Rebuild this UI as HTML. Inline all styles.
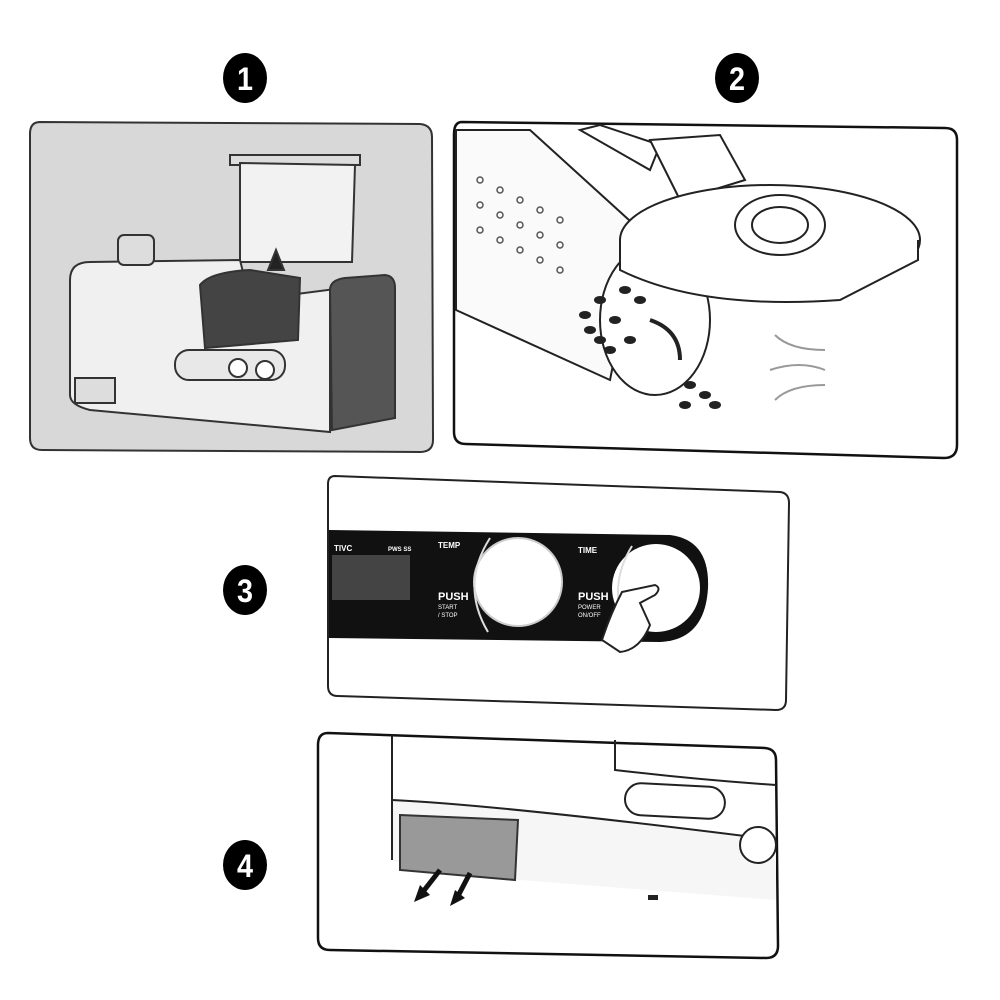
<!DOCTYPE html>
<html><head><meta charset="utf-8"><style>
body{margin:0;background:#fff;width:1000px;height:1000px;overflow:hidden}
svg{display:block}
text{font-family:"Liberation Sans",sans-serif}
</style></head><body>
<svg width="1000" height="1000" viewBox="0 0 1000 1000">
<g font-weight="bold" font-size="32" fill="#fff" text-anchor="middle">
<ellipse cx="245" cy="78" rx="22" ry="25" fill="#000"/><text x="245" y="90" textLength="16" lengthAdjust="spacingAndGlyphs">1</text>
<ellipse cx="737" cy="78" rx="22" ry="25" fill="#000"/><text x="737" y="90" textLength="16" lengthAdjust="spacingAndGlyphs">2</text>
<ellipse cx="245" cy="590" rx="22" ry="25" fill="#000"/><text x="245" y="602" textLength="16" lengthAdjust="spacingAndGlyphs">3</text>
<ellipse cx="245" cy="865" rx="22" ry="25" fill="#000"/><text x="245" y="877" textLength="16" lengthAdjust="spacingAndGlyphs">4</text>
</g>

<!-- Panel 1 -->
<path d="M40 122 L420 124 Q432 125 432 137 L433 440 Q433 452 420 452 L42 450 Q30 450 30 438 L30 134 Q30 122 40 122Z" fill="#d8d8d8" stroke="#333" stroke-width="2"/>
<g stroke="#333" stroke-width="2" fill="#eee">
<rect x="230" y="155" width="130" height="10" fill="#ddd"/>
<path d="M240 163 L355 165 L352 262 L240 262Z" fill="#f2f2f2"/>
<path d="M70 280 Q70 262 90 262 L240 260 L250 300 L390 282 L330 292 L330 432 L90 410 Q70 405 70 395Z" fill="#f0f0f0"/>
<path d="M330 290 Q330 280 345 278 L385 275 Q395 276 395 288 L395 418 L332 430Z" fill="#555"/>
<path d="M200 285 Q210 272 250 270 L300 278 L298 340 L205 348Z" fill="#444"/>
<rect x="175" y="350" width="110" height="30" rx="14" fill="#e8e8e8"/>
<circle cx="238" cy="368" r="9" fill="#fff"/><circle cx="265" cy="370" r="9" fill="#fff"/>
<rect x="118" y="235" width="36" height="30" rx="6" fill="#ddd"/>
<rect x="75" y="378" width="40" height="25" fill="#ddd"/>
<path d="M268 270 L276 250 L284 270Z" fill="#222"/>
</g>

<!-- Panel 2 -->
<path d="M462 122 L945 128 Q957 128 957 140 L957 445 Q957 458 944 458 L466 444 Q454 444 454 432 L454 134 Q454 122 462 122Z" fill="#fff" stroke="#111" stroke-width="2.5"/>
<g stroke="#222" stroke-width="2" fill="#fff">
<path d="M456 130 L530 130 L640 230 L610 380 L456 310Z" fill="#fafafa"/>
<ellipse cx="655" cy="320" rx="55" ry="75"/>
<path d="M580 130 L650 170 L660 145 L600 125Z"/>
<path d="M650 140 L720 135 L745 180 L680 200Z"/>
<ellipse cx="770" cy="240" rx="150" ry="55"/>
<path d="M620 240 L620 270 Q700 310 840 300 L918 260 L918 240"/>
<ellipse cx="780" cy="225" rx="45" ry="30"/>
<ellipse cx="780" cy="225" rx="28" ry="18"/>
</g>
<g fill="none" stroke="#555" stroke-width="1.5">
<circle cx="480" cy="180" r="3"/><circle cx="500" cy="190" r="3"/><circle cx="520" cy="200" r="3"/><circle cx="540" cy="210" r="3"/><circle cx="560" cy="220" r="3"/>
<circle cx="480" cy="205" r="3"/><circle cx="500" cy="215" r="3"/><circle cx="520" cy="225" r="3"/><circle cx="540" cy="235" r="3"/><circle cx="560" cy="245" r="3"/>
<circle cx="480" cy="230" r="3"/><circle cx="500" cy="240" r="3"/><circle cx="520" cy="250" r="3"/><circle cx="540" cy="260" r="3"/><circle cx="560" cy="270" r="3"/>
</g>
<g fill="#222">
<ellipse cx="600" cy="300" rx="6" ry="4"/><ellipse cx="615" cy="320" rx="6" ry="4"/><ellipse cx="590" cy="330" rx="6" ry="4"/>
<ellipse cx="630" cy="340" rx="6" ry="4"/><ellipse cx="610" cy="350" rx="6" ry="4"/><ellipse cx="640" cy="300" rx="6" ry="4"/>
<ellipse cx="585" cy="315" rx="6" ry="4"/><ellipse cx="625" cy="290" rx="6" ry="4"/><ellipse cx="600" cy="340" rx="6" ry="4"/>
<ellipse cx="690" cy="385" rx="6" ry="4"/><ellipse cx="705" cy="395" rx="6" ry="4"/><ellipse cx="685" cy="405" rx="6" ry="4"/><ellipse cx="715" cy="405" rx="6" ry="4"/>
</g>
<path d="M650 320 Q680 330 680 360" stroke="#222" stroke-width="4" fill="none"/>
<g stroke="#999" stroke-width="2" fill="none"><path d="M775 335 Q790 350 825 350"/><path d="M770 370 Q800 360 825 370"/><path d="M775 400 Q790 385 825 385"/></g>

<!-- Panel 3 -->
<path d="M335 476 L780 492 Q789 493 789 503 L786 700 Q786 710 776 710 L338 696 Q328 696 328 686 L328 484 Q328 476 335 476Z" fill="#fff" stroke="#222" stroke-width="2"/>
<path d="M329 530 L670 535 Q710 540 708 588 Q705 640 660 642 L329 638Z" fill="#111"/>
<rect x="332" y="555" width="78" height="45" fill="#444"/>
<circle cx="518" cy="582" r="44" fill="#fff" stroke="#ccc" stroke-width="2"/>
<circle cx="656" cy="588" r="44" fill="#fff"/>
<path d="M490 538 Q460 585 488 632" stroke="#ddd" stroke-width="2" fill="none"/>
<path d="M632 546 Q608 585 625 625" stroke="#ddd" stroke-width="2" fill="none"/>
<g fill="#fff" font-weight="bold">
<text x="334" y="551" font-size="8">TIVC</text>
<text x="388" y="551" font-size="6">PWS SS</text>
<text x="438" y="548" font-size="8">TEMP</text>
<text x="578" y="553" font-size="8">TIME</text>
<text x="438" y="600" font-size="11">PUSH</text>
<text x="438" y="609" font-size="6" font-weight="normal">START</text>
<text x="438" y="617" font-size="6" font-weight="normal">/ STOP</text>
<text x="578" y="600" font-size="11">PUSH</text>
<text x="578" y="609" font-size="6" font-weight="normal">POWER</text>
<text x="578" y="617" font-size="6" font-weight="normal">ON/OFF</text>
</g>
<path d="M622 592 L655 585 Q662 588 655 595 L640 603 L650 625 Q640 650 620 652 L602 640 Q610 615 622 592Z" fill="#fff" stroke="#222" stroke-width="2"/>

<!-- Panel 4 -->
<path d="M328 733 L765 748 Q776 749 776 760 L778 946 Q778 958 766 958 L330 950 Q318 950 318 938 L318 745 Q318 733 328 733Z" fill="#fff" stroke="#111" stroke-width="2.5"/>
<path d="M392 735 L392 860 Q450 880 520 880 L776 900 L776 840 Q500 805 392 800Z" fill="#f6f6f6"/>
<g stroke="#222" stroke-width="2" fill="none">
<path d="M392 735 L392 860"/>
<path d="M392 800 Q500 805 776 840"/>
<path d="M615 740 L615 770 Q700 780 776 785"/>
<rect x="625" y="785" width="100" height="32" rx="16" transform="rotate(3 675 800)"/>
<circle cx="758" cy="845" r="18" fill="#fff"/>
</g>
<path d="M400 815 L518 820 L515 880 L400 870Z" fill="#999" stroke="#333" stroke-width="2"/>
<g stroke="#111" stroke-width="5" fill="#111">
<line x1="440" y1="870" x2="422" y2="893"/><line x1="470" y1="873" x2="457" y2="898"/>
</g>
<path d="M414 902 L420 885 L430 895Z" fill="#111"/><path d="M450 906 L455 890 L465 898Z" fill="#111"/>
<rect x="648" y="895" width="10" height="5" fill="#222"/>
</svg>
</body></html>
